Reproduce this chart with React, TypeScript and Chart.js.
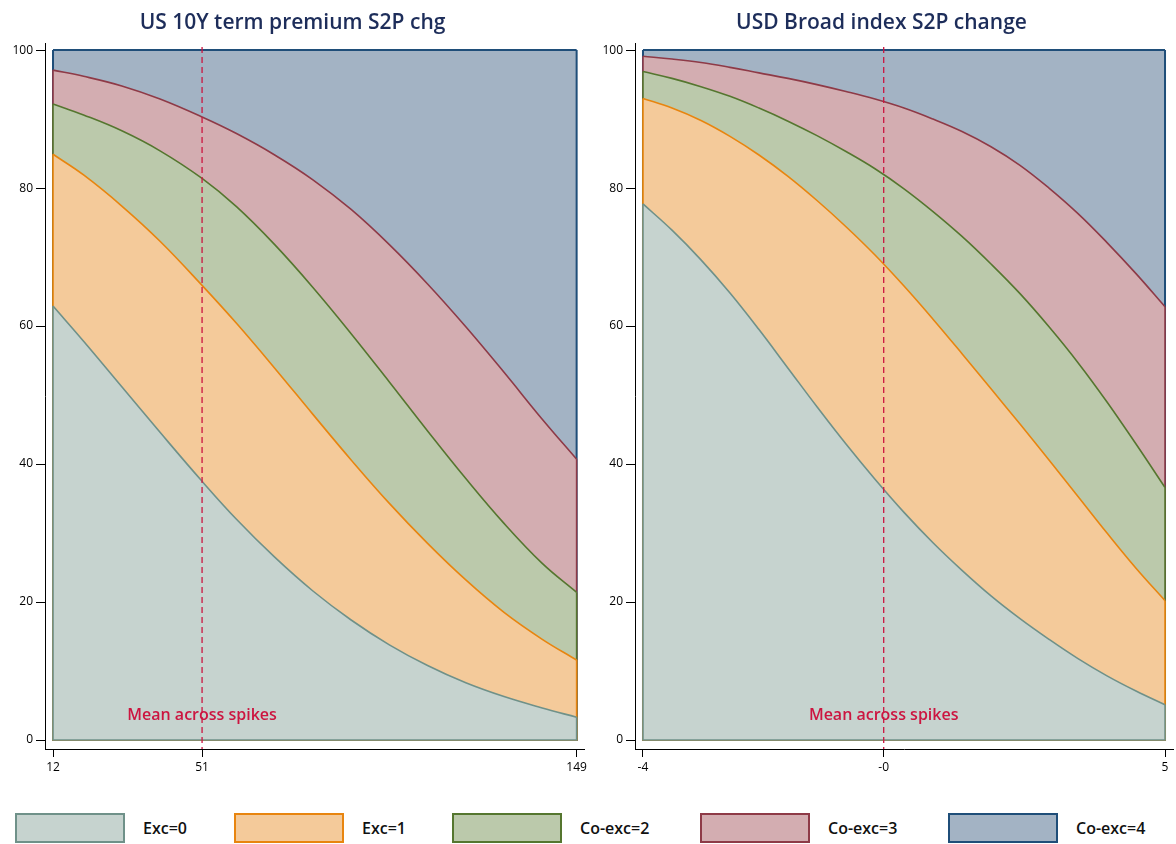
import React, { useEffect, useRef } from "react";
import { Chart, registerables } from "chart.js";

Chart.register(...registerables);

// ---------- data ----------
const seriesNames = ["Exc=0", "Exc=1", "Co-exc=2", "Co-exc=3", "Co-exc=4"];

// Left panel: US 10Y term premium S2P chg (cumulative % at top of each band)
const leftTitle = "US 10Y term premium S2P chg";
const leftX = [12, 20, 30, 40, 51, 60, 70, 80, 90, 100, 110, 120, 130, 140, 149];
const leftExc0 = [62.9, 57.8, 51.2, 44.6, 37.5, 32.0, 26.5, 21.6, 17.4, 13.8, 10.8, 8.3, 6.3, 4.65, 3.3];
const leftExc1 = [84.9, 81.9, 77.4, 72.3, 65.9, 60.4, 53.9, 47.2, 40.6, 34.3, 28.5, 23.2, 18.5, 14.6, 11.6];
const leftCoexc2 = [92.2, 90.6, 88.3, 85.4, 81.4, 77.3, 71.8, 65.6, 58.9, 51.9, 44.8, 37.9, 31.4, 25.6, 21.4];
const leftCoexc3 = [97.1, 96.2, 94.8, 92.9, 90.3, 87.9, 84.8, 81.2, 76.9, 71.8, 66.1, 59.9, 53.3, 46.5, 40.7];
const leftCoexc4 = [100, 100, 100, 100, 100, 100, 100, 100, 100, 100, 100, 100, 100, 100, 100];
const leftMean = 51;
const leftTickValues = [12, 51, 149];
const leftTickLabels = ["12", "51", "149"];

// Right panel: USD Broad index S2P change
const rightTitle = "USD Broad index S2P change";
const rightX = [-4.4, -3.9, -3.4, -2.9, -2.4, -1.9, -1.4, -0.9, -0.4, 0.1, 0.6, 1.1, 1.6, 2.1, 2.6, 3.1, 3.6, 4.1, 4.6];
const rightExc0 = [77.7, 73.9, 69.6, 64.8, 59.5, 53.9, 48.3, 42.9, 37.8, 33.0, 28.6, 24.6, 20.9, 17.6, 14.6, 11.8, 9.3, 7.1, 5.1];
const rightExc1 = [93.0, 91.6, 89.8, 87.5, 84.8, 81.7, 78.2, 74.4, 70.3, 65.8, 61.0, 56.0, 50.9, 45.8, 40.6, 35.3, 30.0, 24.9, 20.2];
const rightCoexc2 = [96.9, 95.9, 94.7, 93.3, 91.6, 89.7, 87.6, 85.3, 82.8, 79.9, 76.6, 73.0, 69.0, 64.7, 59.9, 54.7, 49.0, 42.9, 36.6];
const rightCoexc3 = [99.1, 98.7, 98.2, 97.5, 96.7, 95.9, 95.0, 94.0, 92.9, 91.6, 90.0, 88.2, 86.0, 83.3, 80.0, 76.3, 72.1, 67.6, 62.8];
const rightCoexc4 = [100, 100, 100, 100, 100, 100, 100, 100, 100, 100, 100, 100, 100, 100, 100, 100, 100, 100, 100];
const rightMean = -0.25;
const rightTickValues = [-4.4, -0.25, 4.6];
const rightTickLabels = ["-4", "-0", "5"];

const yTickValues = [0, 20, 40, 60, 80, 100];
const meanLabel = "Mean across spikes";

// ---------- styles ----------
const lineColors = ["#6f9189", "#e8850f", "#55762f", "#8e3a47", "#1f4e79"];
const fillColors = ["#c6d3cf", "#f4ca9a", "#bbc9ab", "#d3adb1", "#a3b3c4"];
const lineWidths = [1.6, 1.6, 1.6, 1.6, 2];
const titleColor = "#1d2d5a";
const meanColor = "#cc1540";
const FONT = '"Open Sans", "Noto Sans", sans-serif';

const edgePlugin = {
  id: "bandEdges",
  afterDatasetDraw(chart: any, args: any) {
    const meta = args.meta;
    const pts = meta.data;
    if (!pts || !pts.length) return;
    const ds = chart.data.datasets[args.index];
    const y0 = chart.scales.y.getPixelForValue(0);
    const first = pts[0];
    const last = pts[pts.length - 1];
    const ctx = chart.ctx;
    ctx.save();
    ctx.strokeStyle = ds.borderColor;
    ctx.lineWidth = ds.borderWidth;
    ctx.lineJoin = "miter";
    ctx.beginPath();
    ctx.moveTo(first.x, first.y);
    ctx.lineTo(first.x, y0);
    ctx.lineTo(last.x, y0);
    ctx.lineTo(last.x, last.y);
    ctx.stroke();
    ctx.restore();
  },
};

const meanPlugin = {
  id: "meanLine",
  afterDatasetsDraw(chart: any, _args: any, opts: any) {
    const { ctx, chartArea, scales } = chart;
    const xp = scales.x.getPixelForValue(opts.mean);
    ctx.save();
    ctx.fillStyle = meanColor;
    ctx.font = `600 16px ${FONT}`;
    ctx.textAlign = "center";
    ctx.textBaseline = "middle";
    ctx.fillText(meanLabel, xp, scales.y.getPixelForValue(3.5));
    ctx.strokeStyle = meanColor;
    ctx.lineWidth = 1.3;
    ctx.setLineDash([6, 4]);
    ctx.beginPath();
    ctx.moveTo(xp, scales.y.getPixelForValue(100) - 3);
    ctx.lineTo(xp, chartArea.bottom);
    ctx.stroke();
    ctx.restore();
  },
};

type PanelProps = {
  title: string;
  xs: number[];
  series: number[][];
  mean: number;
  tickValues: number[];
  tickLabels: string[];
  width: number;
  height: number;
  padRight: number;
};

function Panel({ title, xs, series, mean, tickValues, tickLabels, width, height, padRight }: PanelProps) {
  const ref = useRef<HTMLCanvasElement | null>(null);
  useEffect(() => {
    if (!ref.current) return;
    const span = xs[xs.length - 1] - xs[0];
    const pxPerUnit = 523 / span;
    const chart = new Chart(ref.current, {
      type: "line",
      data: {
        datasets: series.map((vals, i) => ({
          label: seriesNames[i],
          data: xs.map((x, j) => ({ x, y: vals[j] })),
          borderColor: lineColors[i],
          backgroundColor: fillColors[i],
          borderWidth: lineWidths[i],
          pointRadius: 0,
          fill: "origin",
          tension: 0.4,
        })),
      },
      options: {
        animation: false,
        responsive: false,
        maintainAspectRatio: false,
        layout: { padding: { left: 0, right: padRight, top: 0, bottom: 11 } },
        plugins: {
          legend: { display: false },
          tooltip: { enabled: false },
          title: {
            display: true,
            text: title,
            color: titleColor,
            font: { family: FONT, size: 21, weight: "600" },
            padding: { top: 10, bottom: 8 },
          },
          meanLine: { mean },
        } as any,
        scales: {
          x: {
            type: "linear",
            min: xs[0] - 8 / pxPerUnit,
            max: xs[xs.length - 1] + 8 / pxPerUnit,
            grid: { display: true, drawOnChartArea: false, drawTicks: true, tickLength: 8, color: "#000", lineWidth: 1 },
            border: { display: true, color: "#000", width: 1 },
            ticks: {
              autoSkip: false,
              maxRotation: 0,
              padding: 3,
              color: "#000",
              font: { family: FONT, size: 12 },
              callback: (_v: any, index: number) => tickLabels[index],
            },
            afterBuildTicks: (s: any) => {
              s.ticks = tickValues.map((v) => ({ value: v }));
            },
            afterFit: (s: any) => {
              s.height = 30;
            },
          },
          y: {
            type: "linear",
            min: -1.3,
            max: 101,
            grid: { display: true, drawOnChartArea: false, drawTicks: true, tickLength: 9, color: "#000", lineWidth: 1 },
            border: { display: true, color: "#000", width: 1 },
            ticks: {
              padding: 3,
              color: "#000",
              font: { family: FONT, size: 12 },
            },
            afterBuildTicks: (s: any) => {
              s.ticks = yTickValues.map((v) => ({ value: v }));
            },
            afterFit: (s: any) => {
              s.width = 45;
            },
          },
        },
      } as any,
      plugins: [edgePlugin, meanPlugin],
    });
    return () => chart.destroy();
  }, []);
  return <canvas ref={ref} width={width} height={height} style={{ width, height, display: "block" }} />;
}

const legendLefts = [15, 234, 452, 700, 948];

export default function App() {
  return (
    <div style={{ position: "absolute", left: 0, top: 0, width: 1176, height: 844, background: "#fff", overflow: "hidden" }}>
      <div style={{ position: "absolute", left: 0, top: 0 }}>
        <Panel
          title={leftTitle}
          xs={leftX}
          series={[leftExc0, leftExc1, leftCoexc2, leftCoexc3, leftCoexc4]}
          mean={leftMean}
          tickValues={leftTickValues}
          tickLabels={leftTickLabels}
          width={590}
          height={790}
          padRight={5}
        />
      </div>
      <div style={{ position: "absolute", left: 590, top: 0 }}>
        <Panel
          title={rightTitle}
          xs={rightX}
          series={[rightExc0, rightExc1, rightCoexc2, rightCoexc3, rightCoexc4]}
          mean={rightMean}
          tickValues={rightTickValues}
          tickLabels={rightTickLabels}
          width={586}
          height={790}
          padRight={3}
        />
      </div>
      {seriesNames.map((name, i) => (
        <div
          key={name}
          style={{ position: "absolute", left: legendLefts[i], top: 813, height: 30, display: "flex", alignItems: "center" }}
        >
          <div
            style={{
              width: 110,
              height: 30,
              boxSizing: "border-box",
              border: `2px solid ${lineColors[i]}`,
              background: fillColors[i],
            }}
          />
          <span style={{ marginLeft: 18, fontFamily: FONT, fontWeight: 600, fontSize: 16, color: "#111" }}>{name}</span>
        </div>
      ))}
    </div>
  );
}
